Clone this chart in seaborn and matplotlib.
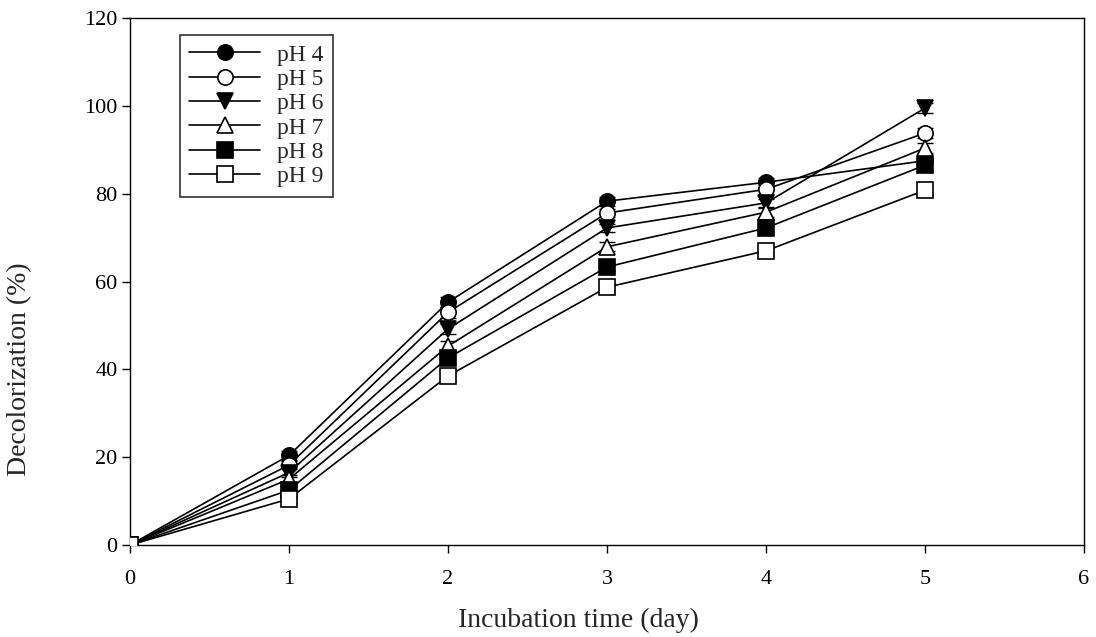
import numpy as np
import pandas as pd
import matplotlib
matplotlib.use('Agg')
import matplotlib.pyplot as plt
import seaborn as sns

days = [0, 1, 2, 3, 4, 5]
ph4 = [0, 20.4, 55.3, 78.3, 82.6, 87.5]
ph5 = [0, 18.2, 53.0, 75.6, 81.0, 93.8]
ph6 = [0, 16.5, 49.2, 72.2, 77.9, 99.5]
ph7 = [0, 15.0, 45.3, 67.9, 75.8, 90.4]
ph8 = [0, 12.5, 42.6, 63.3, 72.2, 86.5]
ph9 = [0, 10.5, 38.5, 58.7, 67.0, 80.8]
err = [0, 1.0, 1.2, 1.0, 1.0, 1.2]

labels = ['pH 4', 'pH 5', 'pH 6', 'pH 7', 'pH 8', 'pH 9']
series = [ph4, ph5, ph6, ph7, ph8, ph9]
markers = ['o', 'o', 'v', '^', 's', 's']
faces = ['black', 'white', 'black', 'white', 'black', 'white']

sns.set_style('white')
plt.rcParams['font.family'] = ['Liberation Serif', 'DejaVu Serif']

fig = plt.figure(figsize=(10.96, 6.37), dpi=100)
ax = fig.add_axes([0.1186, 0.1444, 0.8705, 0.8273])

for lab, vals, m, fc in zip(labels, series, markers, faces):
    df = pd.DataFrame({'day': days, 'val': vals})
    ax.errorbar(days, vals, yerr=err, fmt='none', ecolor='black',
                elinewidth=1, capsize=6, capthick=1, zorder=2)
    sns.lineplot(data=df, x='day', y='val', ax=ax, color='black', lw=1.2,
                 marker=m, markersize=11, markerfacecolor=fc,
                 markeredgecolor='black', markeredgewidth=1.2,
                 label=lab, zorder=3)

ax.set_xlim(0, 6)
ax.set_ylim(0, 120)
ax.set_xticks(range(0, 7))
ax.set_yticks(range(0, 121, 20))
ax.tick_params(direction='out', length=6, width=1, labelsize=16,
               bottom=True, left=True, colors='black')
ax.tick_params(axis='x', pad=12)
ax.tick_params(axis='y', pad=3)
for s in ax.spines.values():
    s.set_color('black')
    s.set_linewidth(1)
ax.set_xlabel('Incubation time (day)', fontsize=20)
ax.set_ylabel('Decolorization (%)', fontsize=20)
ax.xaxis.set_label_coords(0.47, -0.12)
ax.yaxis.set_label_coords(-0.103, 0.334)

leg = ax.legend(loc='upper left', bbox_to_anchor=(0.045, 0.982), fontsize=17,
                frameon=True, fancybox=False, edgecolor='black',
                handlelength=3.0, handletextpad=0.7, borderpad=0.4,
                labelspacing=0.12, borderaxespad=0.3)
leg.get_frame().set_linewidth(1.2)

fig.savefig('out.png', dpi=100)
